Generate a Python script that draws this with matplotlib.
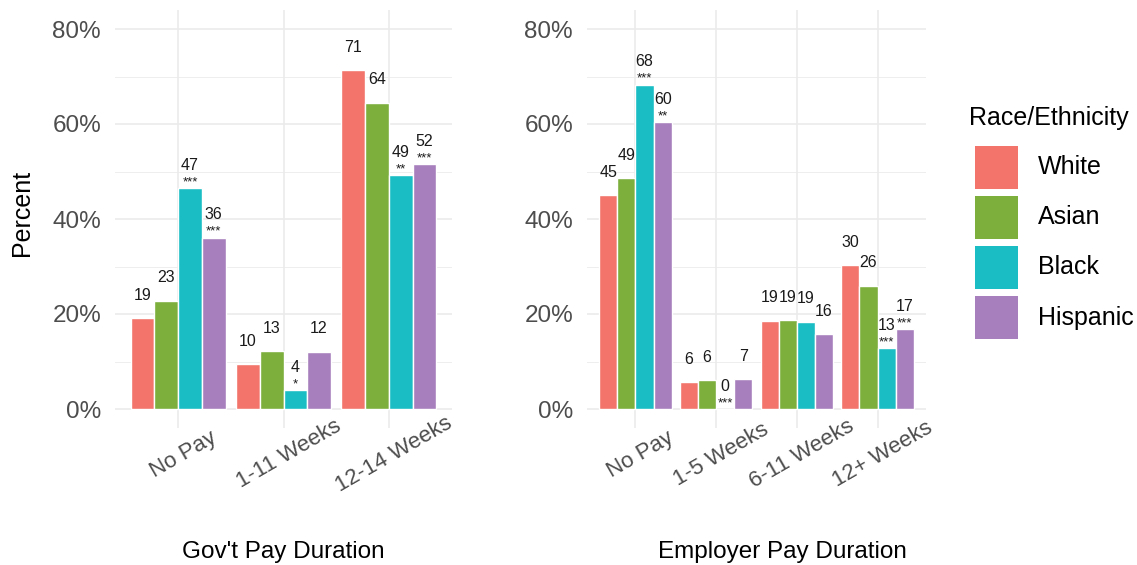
import numpy as np
import matplotlib
matplotlib.use("Agg")
import matplotlib.pyplot as plt
from matplotlib.patches import Rectangle
from matplotlib.transforms import ScaledTranslation

plt.rcParams["font.family"] = ["Liberation Sans", "DejaVu Sans"]

# Data
races = ["White", "Asian", "Black", "Hispanic"]
colors = ["#F2746B", "#7CAF3C", "#1ABDC4", "#A77FBD"]

gov_cats = ["No Pay", "1-11 Weeks", "12-14 Weeks"]
gov_vals = {
    "White": [19.1, 9.4, 71.3],
    "Asian": [22.8, 12.2, 64.5],
    "Black": [46.5, 4.0, 49.2],
    "Hispanic": [36.1, 12.1, 51.5],
}
gov_labels = {
    "White": ["19", "10", "71"],
    "Asian": ["23", "13", "64"],
    "Black": ["47", "4", "49"],
    "Hispanic": ["36", "12", "52"],
}
gov_stars = {
    "White": ["", "", ""],
    "Asian": ["", "", ""],
    "Black": ["***", "*", "**"],
    "Hispanic": ["***", "", "***"],
}

emp_cats = ["No Pay", "1-5 Weeks", "6-11 Weeks", "12+ Weeks"]
emp_vals = {
    "White": [45.0, 5.6, 18.6, 30.3],
    "Asian": [48.6, 6.1, 18.7, 26.0],
    "Black": [68.3, 0.0, 18.4, 12.8],
    "Hispanic": [60.4, 6.3, 15.8, 16.8],
}
emp_labels = {
    "White": ["45", "6", "19", "30"],
    "Asian": ["49", "6", "19", "26"],
    "Black": ["68", "0", "19", "13"],
    "Hispanic": ["60", "7", "16", "17"],
}
emp_stars = {
    "White": ["", "", "", ""],
    "Asian": ["", "", "", ""],
    "Black": ["***", "***", "", "***"],
    "Hispanic": ["**", "", "", "***"],
}

W, H = 1137, 565
fig = plt.figure(figsize=(W / 100, H / 100), dpi=100)

ax1 = fig.add_axes([115 / W, 1 - 428 / H, 337 / W, 418 / H])
ax2 = fig.add_axes([587 / W, 1 - 428 / H, 339 / W, 418 / H])

grid_col = "#EBEBEB"
tick_col = "#4D4D4D"


def draw_panel(ax, cats, vals, labels, stars):
    x = np.arange(len(cats))
    bw = 0.9 / len(races)
    for i, r in enumerate(races):
        xs = x - 0.45 + bw * (i + 0.5)
        ax.bar(xs, vals[r], width=bw, color=colors[i], edgecolor="white",
               linewidth=1, zorder=3)
        for xx, v, lab, st in zip(xs, vals[r], labels[r], stars[r]):
            ax.annotate(lab, (xx, v), xytext=(0, 16.5), textcoords="offset points",
                        ha="center", va="center", fontsize=11.5, color="#1a1a1a",
                        zorder=4)
            if st:
                ax.annotate(st, (xx, v), xytext=(0, 2), textcoords="offset points",
                            ha="center", va="baseline", fontsize=9.5,
                            color="#1a1a1a", zorder=4)
    ax.set_xlim(-0.6, len(cats) - 0.4)
    ax.set_ylim(-4, 84)
    ax.set_yticks([0, 20, 40, 60, 80])
    ax.set_yticklabels(["0%", "20%", "40%", "60%", "80%"])
    ax.set_yticks([10, 30, 50, 70], minor=True)
    ax.set_xticks(x)
    ax.set_xticklabels(cats)
    for s in ax.spines.values():
        s.set_visible(False)
    ax.grid(True, which="major", color=grid_col, linewidth=1.2, zorder=0)
    ax.grid(True, which="minor", axis="y", color=grid_col, linewidth=0.6, zorder=0)
    ax.tick_params(axis="both", which="both", length=0)
    ax.tick_params(axis="y", labelsize=17.5, labelcolor=tick_col, pad=10)
    ax.tick_params(axis="x", labelsize=16, labelcolor=tick_col, pad=19)
    for lbl in ax.get_xticklabels():
        lbl.set_rotation(30)
        lbl.set_ha("center")
        lbl.set_va("center")
        lbl.set_rotation_mode("anchor")
        lbl.set_transform(lbl.get_transform()
                          + ScaledTranslation(5 / 100, 0, fig.dpi_scale_trans))


draw_panel(ax1, gov_cats, gov_vals, gov_labels, gov_stars)
draw_panel(ax2, emp_cats, emp_vals, emp_labels, emp_stars)

fig.text(22 / W, 1 - 213 / H, "Percent", rotation=90, ha="center", va="center",
         fontsize=18, color="black")
fig.text(283 / W, 1 - 552 / H, "Gov't Pay Duration", ha="center", va="center",
         fontsize=17.5, color="black")
fig.text(782 / W, 1 - 552 / H, "Employer Pay Duration", ha="center", va="center",
         fontsize=17.5, color="black")

# legend
fig.text(969 / W, 1 - 118 / H, "Race/Ethnicity", ha="left", va="center",
         fontsize=18, color="black")
for i, r in enumerate(races):
    top = 146 + 50 * i
    fig.patches.append(Rectangle((975 / W, 1 - (top + 43) / H), 43 / W, 43 / H,
                                 transform=fig.transFigure, facecolor=colors[i],
                                 edgecolor="none"))
    fig.text(1038 / W, 1 - (top + 21.5) / H, r, ha="left", va="center",
             fontsize=18, color="black")

fig.savefig("out.png", dpi=100)
